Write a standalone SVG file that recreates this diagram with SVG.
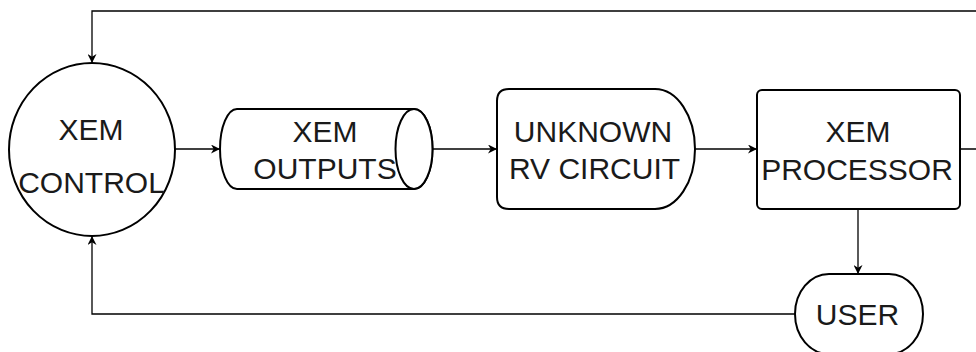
<svg xmlns="http://www.w3.org/2000/svg" width="976" height="352" viewBox="0 0 976 352">
  <style>
    .node { fill: #ffffff; stroke: #000000; stroke-width: 2; }
    .edge { fill: none; stroke: #000000; stroke-width: 1.3; }
    .label { font-family: "Liberation Sans", Arial, sans-serif; font-size: 30px; fill: #1a1a1a; text-anchor: middle; }
  </style>
  <defs>
    <marker id="arrow" viewBox="0 0 10 10" refX="10" refY="5" markerWidth="9" markerHeight="9" markerUnits="userSpaceOnUse" orient="auto">
      <path d="M0,0 L10,5 L0,10 L3,5 Z" fill="#000000"/>
    </marker>
  </defs>
  <rect width="976" height="352" fill="#ffffff"/>

  <g id="connectors">
    <path class="edge" d="M174,149 L220,149" marker-end="url(#arrow)"/>
    <path class="edge" d="M433,149 L497,149" marker-end="url(#arrow)"/>
    <path class="edge" d="M695,149 L757,149" marker-end="url(#arrow)"/>
    <path class="edge" d="M858,209 L858,274" marker-end="url(#arrow)"/>
    <path class="edge" d="M960,149 L990,149 L990,11 L92,11 L92,63" marker-end="url(#arrow)"/>
    <path class="edge" d="M795,314 L92,314 L92,236" marker-end="url(#arrow)"/>
  </g>

  <g id="xem-control">
    <ellipse class="node" cx="92" cy="149.5" rx="83" ry="86.5"/>
    <text class="label" x="91" y="140">XEM</text>
    <text class="label" x="91.5" y="193">CONTROL</text>
  </g>

  <g id="xem-outputs">
    <path class="node" d="M237,109 L414,109 A18.5,40 0 0 1 414,189 L237,189 A17,40 0 0 1 237,109 Z"/>
    <ellipse class="node" cx="414" cy="149" rx="18.5" ry="40"/>
    <text class="label" x="325" y="142">XEM</text>
    <text class="label" x="325" y="179">OUTPUTS</text>
  </g>

  <g id="unknown-rv-circuit">
    <path class="node" d="M509,89 L655,89 A40,60 0 0 1 655,209 L509,209 Q497,209 497,197 L497,101 Q497,89 509,89 Z"/>
    <text class="label" x="593" y="142">UNKNOWN</text>
    <text class="label" x="594.5" y="179">RV CIRCUIT</text>
  </g>

  <g id="xem-processor">
    <rect class="node" x="757" y="90" width="203" height="119" rx="5" ry="5"/>
    <text class="label" x="858" y="142">XEM</text>
    <text class="label" x="857" y="180">PROCESSOR</text>
  </g>

  <g id="user">
    <rect class="node" x="795" y="274" width="128" height="80" rx="34" ry="40"/>
    <text class="label" x="857.5" y="325">USER</text>
  </g>
</svg>
